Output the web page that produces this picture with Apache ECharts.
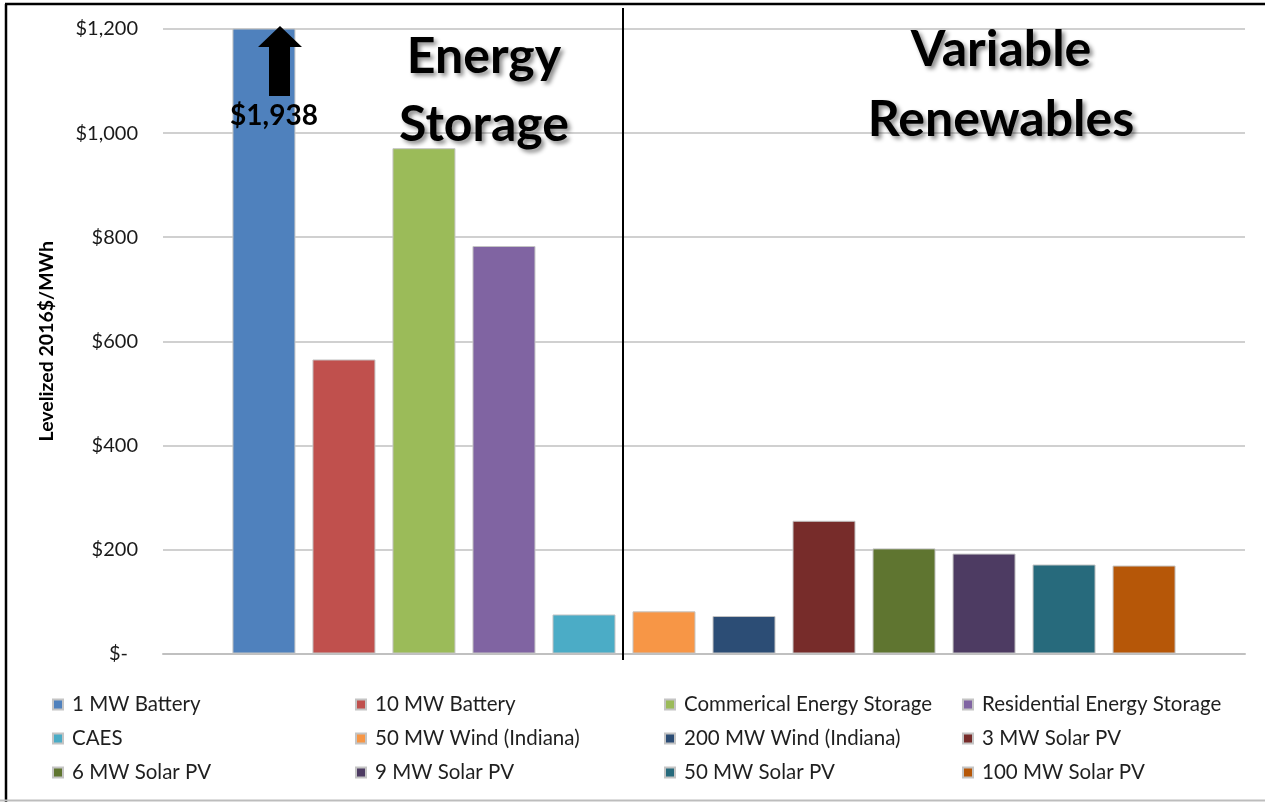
<!DOCTYPE html>
<html>
<head>
<meta charset="utf-8">
<script src="https://cdn.jsdelivr.net/npm/echarts@6/dist/echarts.min.js"></script>
<style>
  html, body { margin: 0; padding: 0; background: #fff; }
  #chart { width: 1265px; height: 802px; }
</style>
</head>
<body>
<div id="chart"></div>
<script>
// Technologies, one bar series each (all in a single category slot)
const technologies = [
  '1 MW Battery', '10 MW Battery', 'Commerical Energy Storage', 'Residential Energy Storage',
  'CAES', '50 MW Wind (Indiana)', '200 MW Wind (Indiana)', '3 MW Solar PV',
  '6 MW Solar PV', '9 MW Solar PV', '50 MW Solar PV', '100 MW Solar PV'
];
// Levelized cost, 2016$/MWh
const levelizedCost = [1938, 565, 971, 783, 75, 81, 72, 255, 202, 192, 171, 169];
const barColors = [
  '#4F81BD', '#C0504D', '#9BBB59', '#8064A2',
  '#4BACC6', '#F79646', '#2C4D75', '#772C2A',
  '#5F7530', '#4D3B62', '#276A7C', '#B65708'
];
const yTicks = [0, 200, 400, 600, 800, 1000, 1200];
const groupLabels = ['Energy\nStorage', 'Variable\nRenewables'];

const FONT = 'Lato, "Open Sans", sans-serif';

function money(v) {
  return v === 0 ? '{z|$-}' : '$' + v.toLocaleString('en-US');
}

// Legend laid out as four columns of three entries
const legendCols = [0, 1, 2, 3].map(c => [c, c + 4, c + 8].map(i => technologies[i]));
const legendLeft = [52, 355, 664, 962];

const series = technologies.map((name, i) => ({
  name: name,
  type: 'bar',
  barWidth: 63,
  barGap: '27%',
  clip: true,
  itemStyle: { color: barColors[i], borderColor: '#c4c4c4', borderWidth: 1 },
  emphasis: { disabled: true },
  data: [levelizedCost[i]]
}));

function heading(text, x, y, lh) {
  return {
    type: 'text', x: x, y: y, z: 100,
    style: {
      text: text,
      fill: '#000',
      font: 'bold 50px ' + FONT,
      textAlign: 'center',
      textVerticalAlign: 'middle',
      lineHeight: lh,
      textShadowColor: 'rgba(0,0,0,0.45)',
      textShadowBlur: 4,
      textShadowOffsetX: 3,
      textShadowOffsetY: 3
    }
  };
}

const option = {
  animation: false,
  backgroundColor: '#fff',
  grid: { left: 163, right: 20, top: 29, bottom: 148.5 },
  xAxis: {
    type: 'category',
    data: [''],
    axisLine: { show: true, lineStyle: { color: '#c0c0c0', width: 2 } },
    axisTick: { show: false },
    axisLabel: { show: false }
  },
  yAxis: {
    type: 'value',
    min: yTicks[0],
    max: yTicks[yTicks.length - 1],
    interval: yTicks[1] - yTicks[0],
    name: 'Levelized 2016$/MWh',
    nameLocation: 'middle',
    nameGap: 106,
    nameTextStyle: { fontFamily: FONT, fontWeight: 'bold', fontSize: 19.5, color: '#000' },
    axisLine: { show: false },
    axisTick: { show: false },
    splitLine: { lineStyle: { color: '#c0c0c0', width: 1.5 } },
    axisLabel: {
      fontFamily: FONT, fontSize: 20, color: '#1a1a1a', margin: 25,
      formatter: money,
      rich: { z: { fontFamily: FONT, fontSize: 20, color: '#1a1a1a', padding: [0, 10, 0, 0] } }
    }
  },
  legend: legendCols.map((col, k) => ({
    orient: 'vertical',
    left: legendLeft[k],
    top: 694,
    padding: 0,
    data: col,
    icon: 'rect',
    itemWidth: 10,
    itemHeight: 10,
    itemGap: 13,
    selectedMode: false,
    textStyle: { fontFamily: FONT, fontSize: 20.5, color: '#1f1f1f', lineHeight: 21, padding: [0, 0, 0, 4] }
  })),
  series: series,
  graphic: [
    // frame
    { type: 'line', z: 100, shape: { x1: 5, y1: 4, x2: 1265, y2: 4 }, style: { stroke: '#000', lineWidth: 2.5 } },
    { type: 'line', z: 100, shape: { x1: 6, y1: 4, x2: 6, y2: 802 }, style: { stroke: '#000', lineWidth: 2.5 } },
    { type: 'line', z: 100, shape: { x1: 0, y1: 800.5, x2: 1265, y2: 800.5 }, style: { stroke: '#bdbdbd', lineWidth: 2 } },
    // divider between storage and renewables
    { type: 'line', z: 100, shape: { x1: 623, y1: 8, x2: 623, y2: 660 }, style: { stroke: '#000', lineWidth: 2 } },
    // group headings
    heading(groupLabels[0], 484, 91, 68),
    heading(groupLabels[1], 1001, 85, 70),
    // off-scale arrow for the 1 MW battery
    {
      type: 'polygon', z: 100,
      shape: { points: [[280, 26], [302, 47], [290, 47], [290, 96], [269, 96], [269, 47], [258, 47]] },
      style: { fill: '#000' }
    },
    {
      type: 'text', x: 274, y: 116, z: 100,
      style: {
        text: '$' + levelizedCost[0].toLocaleString('en-US'),
        font: 'bold 28px ' + FONT, fill: '#000',
        textAlign: 'center', textVerticalAlign: 'middle'
      }
    }
  ]
};

const chart = echarts.init(document.getElementById('chart'), null, { renderer: 'canvas' });
chart.setOption(option);
</script>
</body>
</html>
